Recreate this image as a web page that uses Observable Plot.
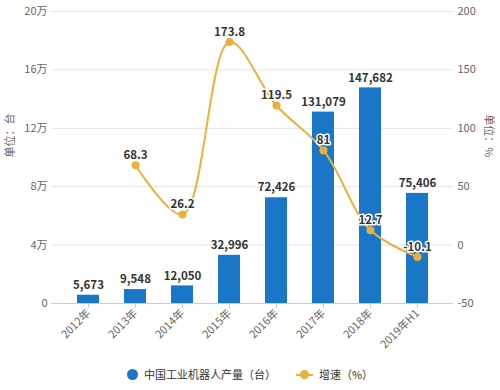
<!DOCTYPE html>
<html><head><meta charset="utf-8">
<script src="https://cdn.jsdelivr.net/npm/d3@7"></script>
<script src="https://cdn.jsdelivr.net/npm/@observablehq/plot@0.6"></script>
<style>
body{margin:0;background:#fff;font-family:"Noto Sans CJK SC","Noto Sans",sans-serif;}
#chart{width:500px;height:358px;}
#legend{display:flex;justify-content:center;align-items:center;height:32px;font-size:11px;color:#333;}
.item{display:flex;align-items:center;}
.sw-dot{width:11px;height:11px;border-radius:50%;background:#1A76C6;margin-right:6px;}
.sw-line{position:relative;width:17px;height:11px;margin-right:6px;}
.sw-line:before{content:"";position:absolute;left:0;right:0;top:5px;height:2px;background:#E8B13A;}
.sw-line:after{content:"";position:absolute;left:4px;top:1.5px;width:9px;height:9px;border-radius:50%;background:#E8B13A;}
</style></head><body>
<div id="chart"></div>
<div id="legend">
  <div class="item" style="margin-right:20px"><span class="sw-dot"></span><span>中国工业机器人产量（台）</span></div>
  <div class="item"><span class="sw-line"></span><span>增速（%）</span></div>
</div>
<script>
const years = ["2012年","2013年","2014年","2015年","2016年","2017年","2018年","2019年H1"];
const output = [5673, 9548, 12050, 32996, 72426, 131079, 147682, 75406];
const growth = [null, 68.3, 26.2, 173.8, 119.5, 81, 12.7, -10.1];
const leftTicks = [0, 40000, 80000, 120000, 160000, 200000];
const rightTicks = [-50, 0, 50, 100, 150, 200];

const yMax = 200000, gMin = -50, gMax = 200;
const toY = g => (g - gMin) / (gMax - gMin) * yMax;
const fromY = v => v / yMax * (gMax - gMin) + gMin;

const barData = years.map((y, i) => ({year: y, value: output[i]}));
const lineData = years.map((y, i) => ({year: y, g: growth[i]})).filter(d => d.g != null);

const BLUE = "#1A76C6", GOLD = "#E8B13A";
const font = '"Noto Sans CJK SC","Noto Sans",sans-serif';

const chart = Plot.plot({
  width: 500,
  height: 358,
  marginLeft: 51,
  marginRight: 47,
  marginTop: 11,
  marginBottom: 55,
  style: {fontFamily: font, fontSize: "11px", color: "#666", background: "#fff"},
  x: {domain: years, paddingInner: 0.537, paddingOuter: 0.49, label: null},
  y: {domain: [0, yMax], label: null},
  marks: [
    Plot.gridY(leftTicks, {stroke: "#e3e3e3", strokeOpacity: 1}),
    Plot.axisY(leftTicks, {anchor: "left", tickSize: 0, tickPadding: 4, fill: "#666", label: null,
      tickFormat: d => d === 0 ? "0" : (d / 10000) + "万"}),
    Plot.axisY(rightTicks.map(toY), {anchor: "right", tickSize: 0, tickPadding: 4, fill: "#666", label: null,
      tickFormat: d => String(Math.round(fromY(d)))}),
    Plot.barY(barData, {x: "year", y: "value", fill: BLUE}),
    Plot.ruleY([0], {stroke: "#cccccc"}),
    Plot.axisX({tickRotate: -45, tickSize: 5, tickPadding: 3, stroke: "#cccccc", fill: "#666", label: null, fontSize: 11}),
    Plot.text(barData, {x: "year", y: "value", text: d => d3.format(",")(d.value), dy: -10,
      fontWeight: "bold", fill: "#333", fontSize: 11.5}),
    Plot.line(lineData, {x: "year", y: d => toY(d.g), stroke: GOLD, strokeWidth: 2, curve: "catmull-rom"}),
    Plot.dot(lineData, {x: "year", y: d => toY(d.g), fill: GOLD, r: 4}),
    Plot.text(lineData, {x: "year", y: d => toY(d.g), text: d => String(d.g), dy: -10,
      fontWeight: "bold", fill: "#333", stroke: "white", strokeWidth: 3, fontSize: 11.5}),
    Plot.text(["单位：台"], {frameAnchor: "left", dx: -41, rotate: -90, fill: "#666", fontSize: 11}),
    Plot.text(["单位：%"], {frameAnchor: "right", dx: 35, rotate: 90, fill: "#666", fontSize: 11})
  ]
});
document.getElementById("chart").appendChild(chart);
</script>
</body></html>
